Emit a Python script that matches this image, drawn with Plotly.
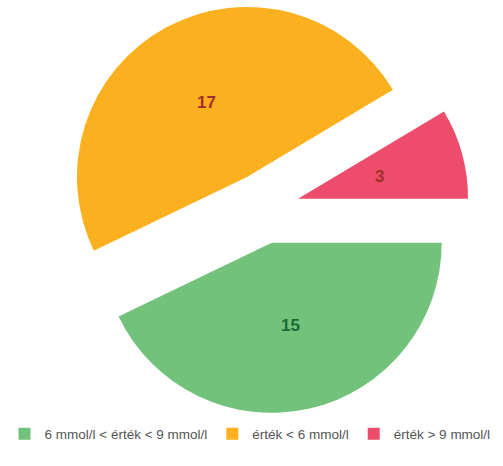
import math
import plotly.graph_objects as go

labels = ["6 mmol/l < érték < 9 mmol/l", "érték < 6 mmol/l", "érték > 9 mmol/l"]
values = [15, 17, 3]
colors = ["#72C27B", "#FBB11F", "#EE4C6B"]
text_colors = ["#1C6A33", "#A02F2C", "#A02F2C"]
pull = 0.209

W, H = 503, 466
cx_px, cy_px = 263.8, 208.2
half = 170 * (1 + pull)
dom_x = [(cx_px - half) / W, (cx_px + half) / W]
dom_y = [1 - (cy_px + half) / H, min(1.0, 1 - (cy_px - half) / H)]

fig = go.Figure(go.Pie(
    labels=labels,
    values=values,
    sort=False,
    direction="clockwise",
    rotation=90,
    pull=[pull] * len(values),
    marker=dict(colors=colors, line=dict(width=0)),
    textinfo="none",
    domain=dict(x=dom_x, y=dom_y),
    hoverinfo="label+value",
))

# value labels placed along each slice's bisector
r = half / (1 + pull)
total = sum(values)
start = 0.0
for v, tc in zip(values, text_colors):
    span = v / total * 360
    mid = math.radians(-(start + span / 2))
    start += span
    dist = (pull + 0.5) * r
    px = cx_px + dist * math.cos(mid)
    py = cy_px - dist * math.sin(mid)
    fig.add_annotation(
        x=px / W, y=1 - py / H, xref="paper", yref="paper",
        xanchor="center", yanchor="middle",
        text=f"<b>{v}</b>", showarrow=False,
        font=dict(size=17, color=tc, family="Liberation Sans"),
    )

fig.update_layout(
    width=W, height=H,
    margin=dict(l=0, r=0, t=0, b=0),
    paper_bgcolor="white",
    plot_bgcolor="white",
    showlegend=True,
    legend=dict(
        orientation="h",
        x=250 / W, xanchor="center",
        y=1 - 434 / H, yanchor="middle",
        font=dict(size=13.5, color="#555555", family="Liberation Sans"),
        itemclick=False,
    ),
)

fig.write_html(
    "out.html",
    config={"displayModeBar": False},
    post_script="document.body.style.margin='0';",
)
